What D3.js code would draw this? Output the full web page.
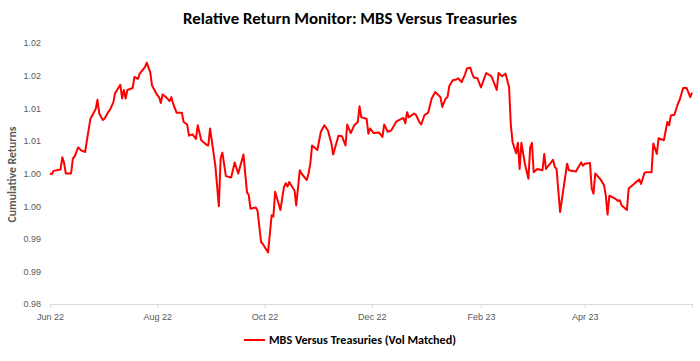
<!DOCTYPE html>
<html>
<head>
<meta charset="utf-8">
<script src="https://cdn.jsdelivr.net/npm/d3@7"></script>
<style>
    body { margin: 0; background: #fff; }
    svg { display: block; font-family: Calibri, Carlito, "Open Sans", "Noto Sans", sans-serif; }
    .tick text { fill: #595959; font-size: 9px; }
    .domain, .tick line { stroke: #d9d9d9; }
</style>
</head>
<body>
<div class="container"></div>
<script>
const WIDTH = 700,
    HEIGHT = 361,
    LEFT = 50,
    RIGHT = 692,
    TOP = 43,
    BOTTOM = 304;

// daily cumulative relative return, MBS vs Treasuries (vol matched)
var dates = [
    "2022-06-01", "2022-06-02", "2022-06-03", "2022-06-07", "2022-06-08", "2022-06-09", "2022-06-10", "2022-06-13", "2022-06-14", "2022-06-15",
    "2022-06-17", "2022-06-19", "2022-06-21", "2022-06-22", "2022-06-24", "2022-06-27", "2022-06-28", "2022-06-29", "2022-07-01", "2022-07-02",
    "2022-07-04", "2022-07-05", "2022-07-07", "2022-07-08", "2022-07-11", "2022-07-12", "2022-07-13", "2022-07-14", "2022-07-15", "2022-07-18",
    "2022-07-19", "2022-07-21", "2022-07-22", "2022-07-25", "2022-07-26", "2022-07-28", "2022-07-29", "2022-08-01",
    "2022-08-02", "2022-08-03", "2022-08-04", "2022-08-06", "2022-08-08", "2022-08-09", "2022-08-10", "2022-08-12", "2022-08-15", "2022-08-16",
    "2022-08-18", "2022-08-19", "2022-08-21", "2022-08-23", "2022-08-24", "2022-08-26", "2022-08-29", "2022-08-30", "2022-08-31", "2022-09-03",
    "2022-09-05", "2022-09-06", "2022-09-07", "2022-09-09", "2022-09-12", "2022-09-14", "2022-09-16", "2022-09-19", "2022-09-21", "2022-09-22",
    "2022-09-23", "2022-09-26", "2022-09-27", "2022-09-29",
    "2022-09-30", "2022-10-03", "2022-10-05", "2022-10-06", "2022-10-07", "2022-10-10", "2022-10-12", "2022-10-13", "2022-10-14", "2022-10-15",
    "2022-10-18", "2022-10-19", "2022-10-21", "2022-10-22", "2022-10-25", "2022-10-26", "2022-10-27", "2022-10-28", "2022-10-31", "2022-11-02",
    "2022-11-04", "2022-11-06", "2022-11-08", "2022-11-09", "2022-11-12", "2022-11-14", "2022-11-16", "2022-11-17", "2022-11-19", "2022-11-21",
    "2022-11-23", "2022-11-24", "2022-11-25", "2022-11-28",
    "2022-11-29", "2022-11-30", "2022-12-02", "2022-12-05", "2022-12-07", "2022-12-08", "2022-12-10", "2022-12-12", "2022-12-15", "2022-12-18",
    "2022-12-19", "2022-12-20", "2022-12-21", "2022-12-22", "2022-12-25", "2022-12-26", "2022-12-28", "2022-12-29", "2022-12-31", "2023-01-02",
    "2023-01-04", "2023-01-06", "2023-01-09", "2023-01-10", "2023-01-12", "2023-01-13", "2023-01-14", "2023-01-16", "2023-01-18", "2023-01-19",
    "2023-01-21", "2023-01-23", "2023-01-24", "2023-01-26", "2023-01-27",
    "2023-01-28", "2023-01-30", "2023-02-01", "2023-02-04", "2023-02-07", "2023-02-10", "2023-02-11", "2023-02-13", "2023-02-15", "2023-02-17",
    "2023-02-18", "2023-02-19", "2023-02-21", "2023-02-22", "2023-02-23", "2023-02-24", "2023-02-26", "2023-02-28", "2023-03-01", "2023-03-02",
    "2023-03-03", "2023-03-05", "2023-03-08", "2023-03-09", "2023-03-10", "2023-03-14", "2023-03-15", "2023-03-16", "2023-03-18", "2023-03-22",
    "2023-03-23", "2023-03-27",
    "2023-03-30", "2023-03-31", "2023-04-01", "2023-04-04", "2023-04-05", "2023-04-06", "2023-04-07", "2023-04-10", "2023-04-12", "2023-04-13",
    "2023-04-14", "2023-04-15", "2023-04-18", "2023-04-20", "2023-04-21", "2023-04-22", "2023-04-25", "2023-04-26", "2023-04-29", "2023-05-02",
    "2023-05-03", "2023-05-05", "2023-05-06", "2023-05-09", "2023-05-10", "2023-05-12", "2023-05-13", "2023-05-16", "2023-05-18", "2023-05-19",
    "2023-05-20", "2023-05-22", "2023-05-24", "2023-05-25", "2023-05-27", "2023-05-29", "2023-05-31", "2023-06-01"
];

var returns = [
    1.0000, 0.9999, 1.0004, 1.0006, 1.0025, 1.0016, 1.0000, 1.0000, 1.0023, 1.0026,
    1.0040, 1.0035, 1.0033, 1.0051, 1.0084, 1.0099, 1.0113, 1.0092, 1.0082, 1.0084,
    1.0094, 1.0097, 1.0109, 1.0123, 1.0136, 1.0115, 1.0128, 1.0115, 1.0128, 1.0131,
    1.0148, 1.0145, 1.0153, 1.0163, 1.0170, 1.0155, 1.0135, 1.0120,
    1.0117, 1.0108, 1.0121, 1.0117, 1.0111, 1.0117, 1.0107, 1.0093, 1.0093, 1.0079,
    1.0075, 1.0058, 1.0060, 1.0053, 1.0074, 1.0051, 1.0044, 1.0043, 1.0069, 1.0012,
    0.9950, 1.0023, 1.0032, 0.9996, 0.9994, 1.0017, 1.0000, 1.0029, 0.9971, 0.9967,
    0.9946, 0.9948, 0.9943, 0.9895,
    0.9892, 0.9879, 0.9936, 0.9934, 0.9972, 0.9944, 0.9979, 0.9985, 0.9980, 0.9987,
    0.9974, 0.9951, 1.0005, 1.0000, 0.9990, 1.0000, 1.0015, 1.0043, 1.0036, 1.0064,
    1.0074, 1.0066, 1.0046, 1.0029, 1.0058, 1.0057, 1.0043, 1.0075, 1.0062, 1.0074,
    1.0079, 1.0103, 1.0086, 1.0084,
    1.0061, 1.0069, 1.0062, 1.0063, 1.0056, 1.0075, 1.0064, 1.0066, 1.0080, 1.0084,
    1.0085, 1.0077, 1.0094, 1.0086, 1.0092, 1.0090, 1.0079, 1.0075, 1.0090, 1.0093,
    1.0115, 1.0125, 1.0117, 1.0102, 1.0115, 1.0117, 1.0134, 1.0143, 1.0144, 1.0146,
    1.0140, 1.0152, 1.0161, 1.0162, 1.0153,
    1.0147, 1.0146, 1.0132, 1.0154, 1.0149, 1.0128, 1.0154, 1.0149, 1.0153, 1.0132,
    1.0074, 1.0048, 1.0031, 1.0047, 1.0007, 1.0047, 1.0015, 0.9992, 1.0040, 1.0047,
    1.0002, 1.0007, 1.0005, 1.0030, 1.0007, 1.0021, 1.0010, 1.0007, 0.9941, 1.0015,
    1.0005, 1.0003,
    1.0017, 1.0012, 1.0015, 1.0016, 0.9977, 0.9969, 1.0000, 0.9991, 0.9982, 0.9966,
    0.9937, 0.9966, 0.9962, 0.9958, 0.9959, 0.9951, 0.9944, 0.9977, 0.9984, 0.9991,
    0.9984, 1.0001, 1.0002, 1.0002, 1.0046, 1.0030, 1.0054, 1.0051, 1.0079, 1.0074,
    1.0089, 1.0090, 1.0107, 1.0113, 1.0131, 1.0131, 1.0117, 1.0124
];

var yTickValues = [0.98, 0.985, 0.99, 0.995, 1.00, 1.005, 1.01, 1.015, 1.02];
var yTickLabels = ["0.98", "0.99", "0.99", "1.00", "1.00", "1.01", "1.01", "1.02", "1.02"];
var xTickDates = ["2022-06-01", "2022-08-01", "2022-10-01", "2022-12-01", "2023-02-01", "2023-04-01", "2023-06-01"];
var xTickLabels = ["Jun 22", "Aug 22", "Oct 22", "Dec 22", "Feb 23", "Apr 23", ""];

var title = "Relative Return Monitor: MBS Versus Treasuries";
var yTitle = "Cumulative Returns";
var seriesName = "MBS Versus Treasuries (Vol Matched)";

var parse = d3.utcParse("%Y-%m-%d");
var translate = (x, y) => "translate(" + x + "," + y + ")";

var data = dates.map((d, i) => ({ date: parse(d), v: returns[i] }));

var svg = d3.select('.container').append('svg')
    .attr('width', WIDTH)
    .attr('height', HEIGHT);

var xScale = d3.scaleUtc()
    .domain([parse(xTickDates[0]), parse(xTickDates[xTickDates.length - 1])])
    .range([LEFT, RIGHT]);

var yScale = d3.scaleLinear()
    .domain([yTickValues[0], yTickValues[yTickValues.length - 1]])
    .range([BOTTOM, TOP]);

var xAxis = d3.axisBottom(xScale)
    .tickValues(xTickDates.map(parse))
    .tickFormat((d, i) => xTickLabels[i])
    .tickSize(4)
    .tickSizeOuter(0)
    .tickPadding(6);

var yAxis = d3.axisLeft(yScale)
    .tickValues(yTickValues)
    .tickFormat((d, i) => yTickLabels[i])
    .tickSize(0)
    .tickPadding(9);

svg.append('g')
    .attr('transform', translate(0, BOTTOM))
    .call(xAxis);

svg.append('g')
    .attr('transform', translate(LEFT, 0))
    .call(yAxis)
    .call(g => g.select('.domain').remove());

var line = d3.line()
    .x(d => xScale(d.date))
    .y(d => yScale(d.v));

svg.append('path')
    .datum(data)
    .attr('fill', 'none')
    .attr('stroke', '#ff0000')
    .attr('stroke-width', 2)
    .attr('stroke-linejoin', 'round')
    .attr('d', line);

// title
svg.append('text')
    .attr('x', WIDTH / 2)
    .attr('y', 24)
    .attr('text-anchor', 'middle')
    .attr('font-size', 16)
    .attr('font-weight', 'bold')
    .attr('fill', '#000')
    .attr('textLength', 334)
    .attr('lengthAdjust', 'spacingAndGlyphs')
    .text(title);

// y axis title
svg.append('text')
    .attr('transform', translate(16, (TOP + BOTTOM) / 2 + 1) + ' rotate(-90)')
    .attr('text-anchor', 'middle')
    .attr('font-size', 11)
    .attr('font-weight', 'bold')
    .attr('fill', '#595959')
    .attr('textLength', 96)
    .attr('lengthAdjust', 'spacingAndGlyphs')
    .text(yTitle);

// legend
var legend = svg.append('g').attr('transform', translate(244, 340));
legend.append('line')
    .attr('x1', 0).attr('x2', 21)
    .attr('stroke', '#ff0000')
    .attr('stroke-width', 2);
legend.append('text')
    .attr('x', 25)
    .attr('y', 4)
    .attr('font-size', 11)
    .attr('font-weight', 'bold')
    .attr('fill', '#000')
    .attr('textLength', 187)
    .attr('lengthAdjust', 'spacingAndGlyphs')
    .text(seriesName);
</script>
</body>
</html>
